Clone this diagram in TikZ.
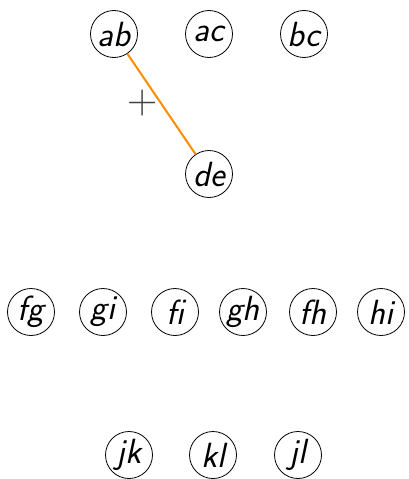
\documentclass[tikz,border=0pt]{standalone}
\usetikzlibrary{calc}
\definecolor{edgeorange}{RGB}{255,140,0}
\begin{document}
\begin{tikzpicture}[x=1pt,y=-1pt,
  vtx/.style={draw, circle, line width=0.8pt, inner sep=0pt, minimum size=47pt,
    font=\fontsize{35}{38}\selectfont\sffamily\slshape},
  edgeline/.style={draw=edgeorange, line width=2pt},
  sign/.style={text=black!75, font=\fontsize{42}{44}\selectfont\rmfamily, inner sep=0pt}]
\useasboundingbox (0,0) rectangle (408,479);
\node[vtx] (ab) at (114,34) {ab};
\node[vtx] (ac) at (209,34) {ac};
\node[vtx] (bc) at (304,34) {bc};
\node[vtx] (de) at (209,174) {de};
\node[vtx] (fg) at (31,312) {fg};
\node[vtx] (gi) at (103,312) {gi};
\node[vtx] (fi) at (175,312) {fi};
\node[vtx] (gh) at (243,312) {gh};
\node[vtx] (fh) at (313,312) {fh};
\node[vtx] (hi) at (381,312) {hi};
\node[vtx] (jk) at (129,455) {jk};
\node[vtx] (kl) at (213,455) {kl};
\node[vtx] (jl) at (298,455) {jl};
\path[edgeline] (ab) -- (de);
\node[sign] (plus) at (143,103) {+};
\end{tikzpicture}
\end{document}
